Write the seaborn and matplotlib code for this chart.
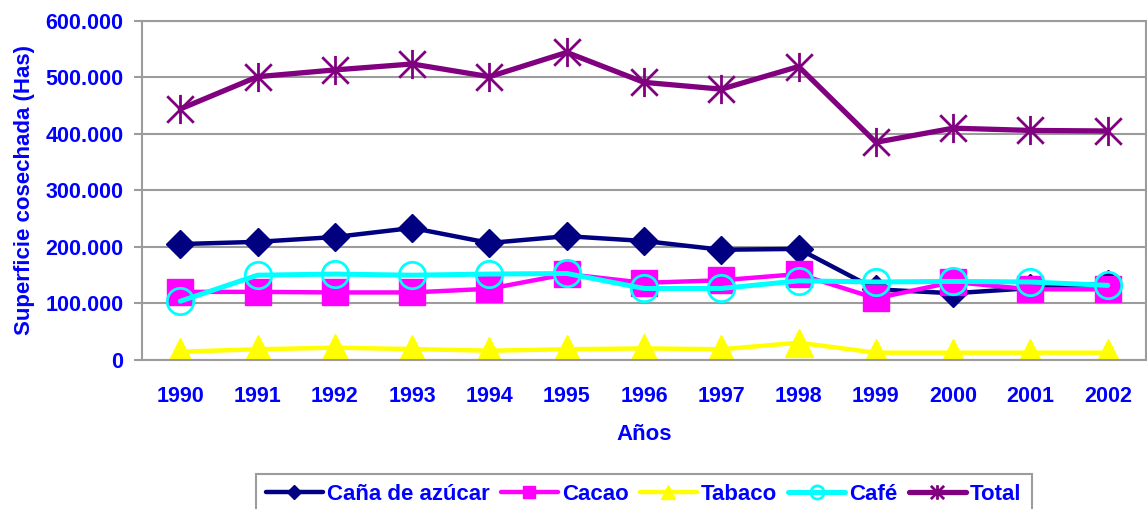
import matplotlib
matplotlib.use("Agg")
import matplotlib.pyplot as plt
from matplotlib.path import Path
from matplotlib.ticker import FuncFormatter, FixedLocator
import seaborn as sns

# data (hectáreas cosechadas)
years = ["1990", "1991", "1992", "1993", "1994", "1995", "1996",
         "1997", "1998", "1999", "2000", "2001", "2002"]
cana = [205000, 209000, 217500, 233500, 207000, 219000, 210500,
        195000, 196500, 125000, 118000, 127000, 135000]
cacao = [120500, 120500, 119500, 119500, 126000, 152000, 136500,
         141000, 152000, 109000, 138000, 125000, 125000]
tabaco = [14700, 19000, 21800, 19400, 16500, 19000, 20600,
          19000, 30600, 13000, 13000, 13000, 13000]
cafe = [104000, 150000, 152000, 150000, 152000, 153000, 126500,
        126500, 140000, 138000, 139000, 138000, 132000]
total = [444000, 501000, 513000, 523500, 501000, 544000, 491000,
         479000, 519000, 385000, 410000, 406000, 405000]

sns.set_style("white")
plt.rcParams["font.family"] = ["Liberation Sans", "DejaVu Sans"]
plt.rcParams["font.weight"] = "bold"

blue = "#0000FF"
gray = "#9C9C9C"

# asterisk marker like the spreadsheet one: an X plus a vertical bar
star = Path([(-0.5, -0.5), (0.5, 0.5), (-0.5, 0.5), (0.5, -0.5), (0, -0.55), (0, 0.55)],
            [Path.MOVETO, Path.LINETO, Path.MOVETO, Path.LINETO, Path.MOVETO, Path.LINETO])

fig = plt.figure(figsize=(11.47, 5.09), dpi=100)
ax = fig.add_axes([0.1235, 0.2927, 0.876, 0.6666])

series = [
    ("Caña de azúcar", cana, dict(color="#000080", marker="D", ms=14, mec="#000080", mew=1, lw=3.2)),
    ("Cacao", cacao, dict(color="#FF00FF", marker="s", ms=18.5, mec="#FF00FF", mew=1, lw=3.2)),
    ("Tabaco", tabaco, dict(color="#FFFF00", marker="^", ms=20, mec="#FFFF00", mew=1, lw=3.2)),
    ("Café", cafe, dict(color="#00FFFF", marker="o", ms=19, mfc="none", mec="#00FFFF", mew=2, lw=3.6)),
    ("Total", total, dict(color="#800080", marker=star, ms=21, mfc="none", mec="#800080", mew=2, lw=3.8)),
]

for name, vals, kw in series:
    sns.lineplot(x=years, y=vals, ax=ax, label=name, **kw)

if ax.get_legend() is not None:
    ax.get_legend().remove()

ax.set_xlim(-0.5, len(years) - 0.5)
ax.set_ylim(0, 600000)
ax.set_yticks(range(0, 600001, 100000))
ax.yaxis.set_major_formatter(FuncFormatter(lambda v, p: f"{int(v):,}".replace(",", ".")))
ax.grid(axis="y", color=gray, lw=1.5)
ax.grid(axis="x", visible=False)

for s in ax.spines.values():
    s.set_color(gray)
    s.set_linewidth(1.5)

ax.xaxis.set_minor_locator(FixedLocator([i - 0.5 for i in range(len(years) + 1)]))
ax.tick_params(axis="x", which="major", length=0, pad=19, labelsize=15.5, labelcolor=blue)
ax.tick_params(axis="x", which="minor", length=6, width=1.5, color=gray, direction="out")
ax.tick_params(axis="y", length=6, width=1.5, color=gray, direction="out", pad=7,
               labelsize=15.5, labelcolor=blue, left=True)
for lab in ax.get_xticklabels() + ax.get_yticklabels():
    lab.set_fontweight("bold")

ax.set_xlabel("Años", fontsize=16, color=blue, fontweight="bold")
ax.xaxis.set_label_coords(0.5, -0.19)
ax.set_ylabel("Superficie cosechada (Has)", fontsize=16, color=blue, fontweight="bold")
ax.yaxis.set_label_coords(-0.106, 0.5)

handles, labels = ax.get_legend_handles_labels()
leg = fig.legend(handles, labels, loc="upper left", bbox_to_anchor=(256 / 1147, 1 - 474 / 509),
                 ncol=5, fontsize=16, frameon=True, fancybox=False, framealpha=1,
                 edgecolor=gray, borderaxespad=0, borderpad=0.45, handlelength=2.55,
                 handletextpad=0.2, columnspacing=0.5, markerscale=0.5)
leg.get_frame().set_linewidth(1.5)
for t in leg.get_texts():
    t.set_color(blue)
    t.set_fontweight("bold")

fig.savefig("out.png", dpi=100)
plt.close()
